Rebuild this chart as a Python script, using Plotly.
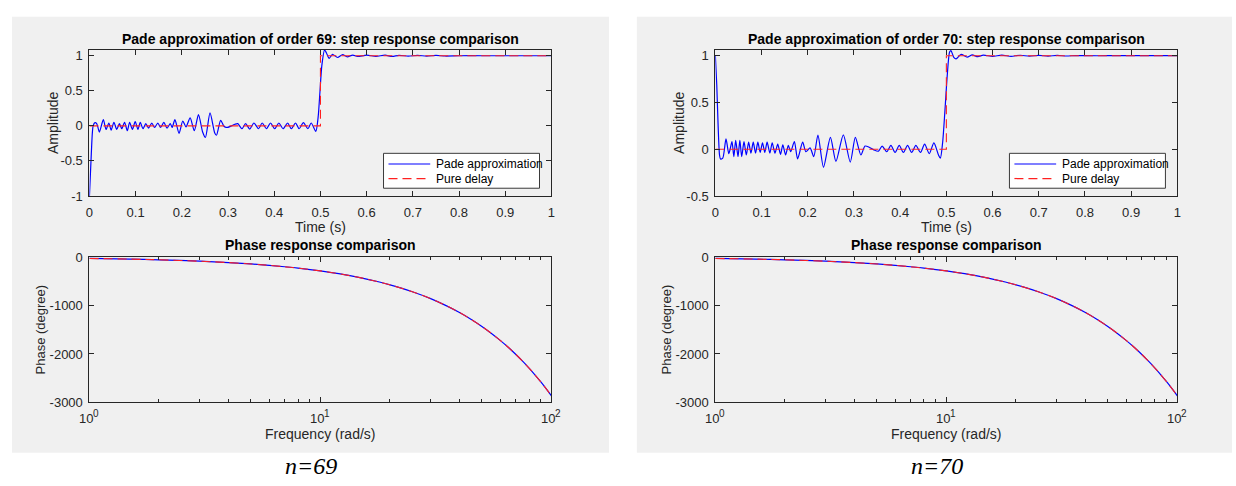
import math
import plotly.graph_objects as go

W, H = 1236, 486

# ---------------- step response, Pade order 69 ----------------
t_69 = [0.000, 0.004, 0.008, 0.012, 0.016, 0.0215, 0.030, 0.036, 0.042, 0.047,
        0.053, 0.059, 0.065, 0.070, 0.076, 0.082, 0.087, 0.093, 0.099, 0.105,
        0.110, 0.116, 0.122, 0.128, 0.135, 0.141, 0.148, 0.154, 0.161, 0.168,
        0.175, 0.179, 0.185, 0.194, 0.202, 0.209, 0.218, 0.227, 0.236, 0.245,
        0.251, 0.261, 0.271, 0.275, 0.284, 0.291, 0.297, 0.306, 0.315, 0.321,
        0.330, 0.338, 0.347, 0.356, 0.366, 0.374, 0.383, 0.392, 0.401, 0.410,
        0.419, 0.429, 0.437, 0.446, 0.454, 0.463, 0.473, 0.480, 0.490, 0.495,
        0.499, 0.503, 0.509, 0.513, 0.519, 0.526, 0.537, 0.548, 0.558, 0.570,
        0.580, 0.600, 0.620, 0.640, 0.655, 0.670, 0.690, 0.710, 0.730, 0.750,
        0.770, 0.800, 0.850, 0.900, 1.000]
y_69 = [-1.000, -0.400, 0.000, 0.046, 0.030, -0.088, 0.088, -0.051, 0.041, -0.060,
        0.051, -0.051, 0.032, -0.041, 0.051, -0.069, 0.051, -0.051, 0.060, -0.051,
        0.051, -0.041, 0.032, -0.032, 0.041, -0.023, 0.041, -0.023, 0.051, -0.032,
        0.032, -0.023, 0.088, -0.106, 0.069, -0.014, 0.115, -0.069, 0.161, -0.088,
        -0.166, 0.184, -0.097, -0.134, 0.078, -0.005, -0.023, -0.005, 0.023, 0.032,
        -0.041, 0.032, -0.046, 0.041, -0.041, 0.041, -0.041, 0.041, -0.041, 0.041,
        -0.041, 0.041, -0.041, 0.041, -0.041, 0.046, -0.041, 0.041, -0.078, 0.124,
        0.490, 0.860, 1.083, 1.040, 0.963, 1.020, 0.975, 1.015, 0.985, 1.010,
        0.990, 1.008, 0.992, 1.008, 0.990, 1.006, 0.994, 1.005, 0.995, 1.004,
        0.996, 1.000, 1.000, 1.000, 1.000]

# ---------------- step response, Pade order 70 ----------------
t_70 = [0.000, 0.003, 0.006, 0.009, 0.011, 0.016, 0.023, 0.029, 0.032, 0.036,
        0.040, 0.044, 0.049, 0.053, 0.057, 0.062, 0.067, 0.072, 0.077, 0.082,
        0.087, 0.092, 0.097, 0.102, 0.107, 0.112, 0.118, 0.123, 0.129, 0.135,
        0.141, 0.146, 0.152, 0.158, 0.163, 0.171, 0.178, 0.189, 0.196, 0.205,
        0.213, 0.222, 0.234, 0.249, 0.261, 0.277, 0.292, 0.303, 0.315, 0.324,
        0.333, 0.343, 0.353, 0.361, 0.371, 0.380, 0.389, 0.398, 0.407, 0.416,
        0.425, 0.434, 0.444, 0.453, 0.463, 0.473, 0.483, 0.487, 0.492, 0.497,
        0.502, 0.507, 0.510, 0.516, 0.521, 0.532, 0.545, 0.556, 0.568, 0.580,
        0.600, 0.620, 0.640, 0.660, 0.680, 0.700, 0.720, 0.740, 0.760, 0.780,
        0.800, 0.850, 0.900, 1.000]
y_70 = [1.000, 0.690, 0.247, -0.062, -0.103, -0.096, 0.110, -0.048, 0.000, 0.082,
        -0.079, 0.096, -0.079, 0.096, -0.079, 0.082, -0.062, 0.075, -0.041, 0.075,
        -0.041, 0.075, -0.034, 0.068, -0.034, 0.075, -0.041, 0.068, -0.041, 0.055,
        -0.055, 0.048, -0.062, 0.041, -0.027, 0.082, -0.103, 0.075, -0.027, 0.014,
        -0.079, 0.151, -0.192, 0.127, -0.130, 0.154, -0.137, 0.127, -0.062, 0.034,
        0.021, -0.007, -0.021, 0.034, -0.027, 0.041, -0.034, 0.041, -0.034, 0.041,
        -0.034, 0.041, -0.034, 0.055, -0.048, 0.068, -0.062, -0.096, 0.075, 0.418,
        0.795, 1.040, 1.055, 0.983, 0.966, 1.014, 0.985, 1.008, 0.990, 1.006,
        0.993, 1.006, 0.994, 1.005, 0.995, 1.004, 0.996, 1.003, 0.997, 1.002,
        1.000, 1.000, 1.000, 1.000]

# ---------------- pure delay (0.5 s) step ----------------
t_delay = [0.0, 0.5, 0.5, 1.0]
y_delay = [0.0, 0.0, 1.0, 1.0]

# ---------------- phase responses ----------------
freq = [1, 1.5, 2, 3, 4, 5, 6, 7, 8, 10, 12, 15, 18, 20, 25, 30, 35, 40,
        45, 50, 55, 60, 65, 70, 75, 80, 85, 90, 95, 100]
phase_delay = [-29, -43, -57, -86, -115, -143, -172, -201, -229, -286, -344,
               -430, -516, -573, -716, -859, -1003, -1146, -1289, -1432, -1576,
               -1719, -1862, -2005, -2149, -2292, -2435, -2578, -2722, -2865]
phase_pade_69 = [-29, -43, -57, -86, -115, -143, -172, -201, -229, -286, -344,
                 -430, -516, -573, -716, -859, -1003, -1146, -1289, -1432, -1576,
                 -1719, -1862, -2005, -2149, -2292, -2435, -2578, -2722, -2865]
phase_pade_70 = [-29, -43, -57, -86, -115, -143, -172, -201, -229, -286, -344,
                 -430, -516, -573, -716, -859, -1003, -1146, -1289, -1432, -1576,
                 -1719, -1862, -2005, -2149, -2292, -2435, -2578, -2722, -2865]

time_ticks = [0, 0.1, 0.2, 0.3, 0.4, 0.5, 0.6, 0.7, 0.8, 0.9, 1]
time_labels = ["0", "0.1", "0.2", "0.3", "0.4", "0.5", "0.6", "0.7", "0.8", "0.9", "1"]
amp69_ticks = [-1, -0.5, 0, 0.5, 1]
amp69_labels = ["-1", "-0.5", "0", "0.5", "1"]
amp70_ticks = [-0.5, 0, 0.5, 1]
amp70_labels = ["-0.5", "0", "0.5", "1"]
phase_ticks = [-3000, -2000, -1000, 0]
phase_labels = ["-3000", "-2000", "-1000", "0"]
freq_ticks = [1, 10, 100]
freq_exponents = ["0", "1", "2"]
freq_minor = [2, 3, 4, 5, 6, 7, 8, 9, 20, 30, 40, 50, 60, 70, 80, 90]
legend_names = ["Pade approximation", "Pure delay"]

BLUE = "#0000ff"
RED = "#ff2020"
AX = "#262626"
SANS = "Liberation Sans, Arial, sans-serif"
DASH = "9px,5px"


def fx(p):
    return p / W


def fy(p):
    return 1 - p / H


def axis(**kw):
    base = dict(showline=True, linecolor=AX, linewidth=1, mirror="ticks",
                ticks="inside", ticklen=5, tickwidth=1, tickcolor=AX,
                showgrid=False, zeroline=False, fixedrange=True,
                tickfont=dict(family=SANS, size=13, color=AX))
    base.update(kw)
    return base


fig = go.Figure()

# panel geometry (pixels): left axes span x 86-551, right axes 716-1181
panels = [
    dict(off=0, xa="x", ya="y", xb="x2", yb="y2", t=t_69, y=y_69, ph=phase_pade_69),
    dict(off=630, xa="x3", ya="y3", xb="x4", yb="y4", t=t_70, y=y_70, ph=phase_pade_70),
]

for p in panels:
    fig.add_trace(go.Scatter(x=p["t"], y=p["y"], mode="lines", name=legend_names[0],
                             line=dict(color=BLUE, width=1.2, shape="spline", smoothing=0.7),
                             xaxis=p["xa"], yaxis=p["ya"]))
    fig.add_trace(go.Scatter(x=t_delay, y=y_delay, mode="lines", name=legend_names[1],
                             line=dict(color=RED, width=1.1, dash=DASH),
                             xaxis=p["xa"], yaxis=p["ya"]))
    fig.add_trace(go.Scatter(x=freq, y=p["ph"], mode="lines", line_shape="spline",
                             name=legend_names[0], line=dict(color=BLUE, width=1.2),
                             xaxis=p["xb"], yaxis=p["yb"]))
    fig.add_trace(go.Scatter(x=freq, y=phase_delay, mode="lines", line_shape="spline",
                             name=legend_names[1], line=dict(color=RED, width=1.1, dash=DASH),
                             xaxis=p["xb"], yaxis=p["yb"]))

top_dom = [fy(195), fy(44)]
bot_dom = [fy(408), fy(258)]
left_dom = [fx(86), fx(551)]
right_dom = [fx(716), fx(1181)]

time_axis = dict(range=[0, 1], tickvals=time_ticks, ticktext=time_labels,
                 ticklabelstandoff=4)
# decade labels (10 with a raised exponent) are written as annotations below
freq_axis = dict(type="log", range=[0, 2], tickvals=freq_ticks, showticklabels=False,
                 minor=dict(ticks="inside", ticklen=3, tickcolor=AX, tickvals=freq_minor))
phase_axis = dict(range=[-3000, 0], tickvals=phase_ticks, ticktext=phase_labels,
                  ticklabelstandoff=3)

fig.update_layout(
    width=W, height=H, autosize=False,
    margin=dict(l=0, r=0, t=0, b=0),
    paper_bgcolor="white", plot_bgcolor="white",
    showlegend=False,
    xaxis=axis(domain=left_dom, anchor="y", **time_axis),
    yaxis=axis(domain=top_dom, anchor="x", range=[-1, 1.087], tickvals=amp69_ticks,
               ticktext=amp69_labels, ticklabelstandoff=3),
    xaxis2=axis(domain=left_dom, anchor="y2", **freq_axis),
    yaxis2=axis(domain=bot_dom, anchor="x2", **phase_axis),
    xaxis3=axis(domain=right_dom, anchor="y3", **time_axis),
    yaxis3=axis(domain=top_dom, anchor="x3", range=[-0.5, 1.065], tickvals=amp70_ticks,
                ticktext=amp70_labels, ticklabelstandoff=3),
    xaxis4=axis(domain=right_dom, anchor="y4", **freq_axis),
    yaxis4=axis(domain=bot_dom, anchor="x4", **phase_axis),
)

shapes = []
# grey figure backgrounds
for x0, x1 in [(8, 609), (637, 1236)]:
    shapes.append(dict(type="rect", xref="paper", yref="paper", x0=fx(x0), x1=fx(x1),
                       y0=fy(460), y1=fy(10), fillcolor="#f0f0f0", line_width=0,
                       layer="below"))

annotations = []
for p, order in zip(panels, ["69", "70"]):
    o = p["off"]
    cx = fx(318.5 + o)
    annotations += [
        dict(x=cx, y=fy(33), text=f"Pade approximation of order {order}: step response comparison",
             font=dict(family=SANS, size=14, color="black", weight="bold")),
        dict(x=cx, y=fy(227), text="Time (s)", font=dict(family=SANS, size=14, color=AX)),
        dict(x=fx(50 + o), y=fy(120), text="Amplitude", textangle=-90,
             font=dict(family=SANS, size=14, color=AX)),
        dict(x=cx, y=fy(246), text="Phase response comparison",
             font=dict(family=SANS, size=14, color="black", weight="bold")),
        dict(x=cx, y=fy(441), text="Frequency (rad/s)", font=dict(family=SANS, size=14, color=AX)),
        dict(x=fx(37 + o), y=fy(333), text="Phase (degree)", textangle=-90,
             font=dict(family=SANS, size=13, color=AX)),
        dict(x=fx(309 + o), y=fy(474), text=f"n={order}",
             font=dict(family="Liberation Serif, Times New Roman, serif", size=24,
                       color="black", style="italic")),
    ]

    # decade tick labels on the log frequency axis
    for f, e in zip(freq_ticks, freq_exponents):
        annotations.append(dict(x=math.log10(f), xref=p["xb"], y=fy(425), text="10",
                                xshift=-3.5, font=dict(family=SANS, size=13, color=AX)))
        annotations.append(dict(x=math.log10(f), xref=p["xb"], y=fy(419), text=e,
                                xshift=7, font=dict(family=SANS, size=10, color=AX)))

    # legend box (south-east corner of the step-response axes)
    lx0, lx1, ly0, ly1 = 382 + o, 539 + o, 151, 187
    shapes.append(dict(type="rect", xref="paper", yref="paper", x0=fx(lx0), x1=fx(lx1),
                       y0=fy(ly1), y1=fy(ly0), fillcolor="white",
                       line=dict(color="#3a3a3a", width=1), layer="above"))
    for row, (name, color, dash) in enumerate(zip(legend_names, [BLUE, RED], ["solid", DASH])):
        yy = 162 + 15 * row
        shapes.append(dict(type="line", xref="paper", yref="paper", x0=fx(lx0 + 5),
                           x1=fx(lx0 + 47), y0=fy(yy), y1=fy(yy),
                           line=dict(color=color, width=1.2, dash=dash), layer="above"))
        annotations.append(dict(x=fx(lx0 + 51), y=fy(yy), text=name, xanchor="left",
                                font=dict(family=SANS, size=12, color="black")))

for a in annotations:
    a.setdefault("xref", "paper")
    a.update(yref="paper", showarrow=False, yanchor="middle")
    a.setdefault("xanchor", "center")
fig.update_layout(annotations=annotations, shapes=shapes)

fig.write_html("out.html")
